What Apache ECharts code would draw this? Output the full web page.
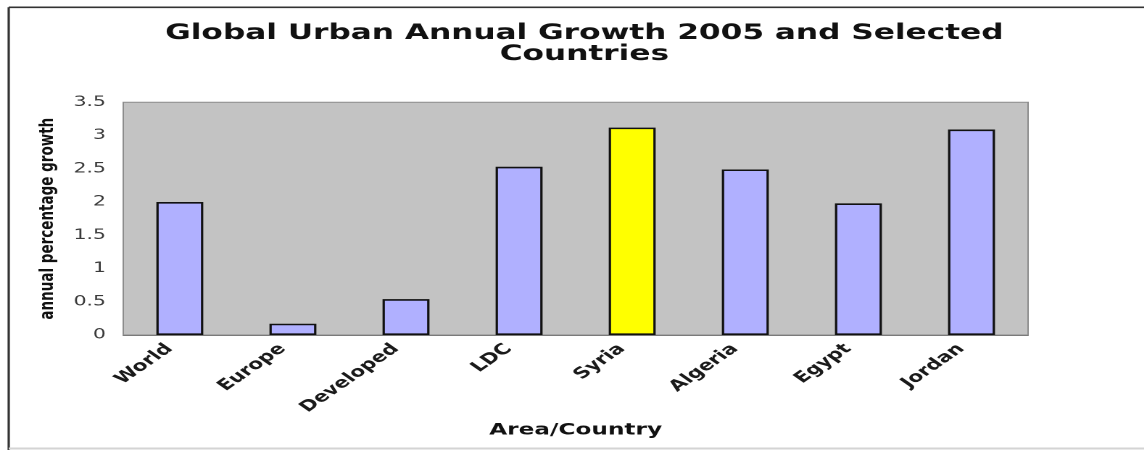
<!DOCTYPE html>
<html>
<head>
<meta charset="utf-8">
<script src="https://cdn.jsdelivr.net/npm/echarts@6/dist/echarts.min.js"></script>
<style>
html,body{margin:0;padding:0;overflow:hidden;background:#fff;}
/* reference image is horizontally stretched; reproduce by scaling the chart */
#chart{width:789px;height:450px;transform:scaleX(1.45);transform-origin:0 0;}
</style>
</head>
<body>
<div id="chart"></div>
<script>
const titleText = 'Global Urban Annual Growth 2005 and Selected\nCountries';
const categories = ['World', 'Europe', 'Developed', 'LDC', 'Syria', 'Algeria', 'Egypt', 'Jordan'];
const growth = [2.0, 0.17, 0.54, 2.53, 3.12, 2.49, 1.98, 3.09];
const highlighted = 'Syria';
const yTicks = { min: 0, max: 3.5, interval: 0.5 };
const xName = 'Area/Country';
const yName = 'annual percentage growth';

const chart = echarts.init(document.getElementById('chart'), null, { devicePixelRatio: 2 });
const font = 'DejaVu Sans, Verdana, sans-serif';
chart.setOption({
  animation: false,
  backgroundColor: '#ffffff',
  title: {
    text: titleText,
    left: 403,
    top: 23,
    padding: 0,
    textAlign: 'center',
    textStyle: { fontFamily: font, fontSize: 21.5, fontWeight: 'bold', color: '#111', lineHeight: 21 }
  },
  graphic: [
    { type: 'line', shape: { x1: 6, y1: 7.3, x2: 789, y2: 7.3 }, style: { stroke: '#333', lineWidth: 1.6 } },
    { type: 'line', shape: { x1: 6, y1: 7.3, x2: 6, y2: 450 }, style: { stroke: '#333', lineWidth: 1.6 } },
    { type: 'line', shape: { x1: 6, y1: 448.5, x2: 789, y2: 448.5 }, style: { stroke: '#d4d4d4', lineWidth: 2 } }
  ],
  grid: {
    left: 85, right: 80, top: 102.3, bottom: 115,
    containLabel: false, outerBoundsMode: 'none',
    show: true, backgroundColor: '#c3c3c3', borderColor: '#8c8c8c', borderWidth: 1
  },
  xAxis: {
    type: 'category',
    data: categories,
    axisLine: { lineStyle: { color: '#7a7a7a', width: 1 } },
    axisTick: { show: false },
    axisLabel: {
      interval: 0, rotate: 45, margin: 4.5, padding: [0, 10, 0, 0],
      fontFamily: font, fontSize: 15, fontWeight: 'bold', color: '#1a1a1a'
    },
    name: xName,
    nameLocation: 'middle',
    nameGap: 75,
    nameTextStyle: { fontFamily: font, fontSize: 16, fontWeight: 'bold', color: '#111' }
  },
  yAxis: {
    type: 'value',
    min: yTicks.min, max: yTicks.max, interval: yTicks.interval,
    axisLine: { show: false },
    axisTick: { show: false },
    splitLine: { show: false },
    axisLabel: { margin: 12, fontFamily: font, fontSize: 14, color: '#3a3a3a' },
    name: yName,
    nameLocation: 'middle',
    nameRotate: 90,
    nameGap: 44,
    nameTextStyle: { fontFamily: font, fontSize: 13.5, fontWeight: 'bold', color: '#111' }
  },
  series: [{
    type: 'bar',
    barWidth: '41.5%',
    data: growth.map((v, i) => ({
      value: v,
      itemStyle: { color: categories[i] === highlighted ? '#ffff00' : '#b0b0ff' }
    })),
    itemStyle: { borderColor: '#111', borderWidth: 1.6 }
  }]
});
</script>
</body>
</html>
